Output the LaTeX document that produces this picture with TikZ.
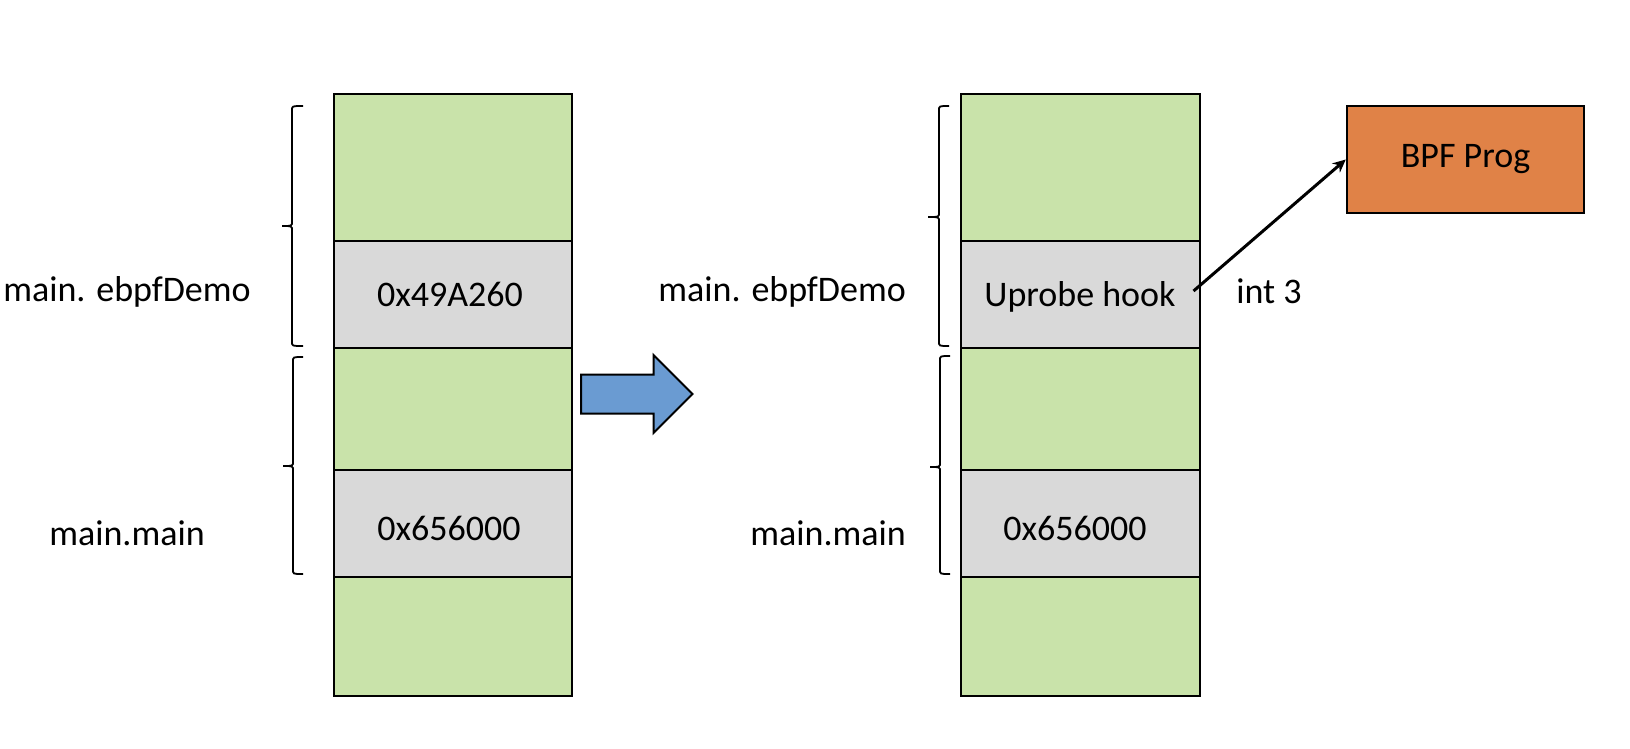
\documentclass[tikz,border=0pt]{standalone}
\usepackage{fontspec}
\setmainfont{Carlito}
\usetikzlibrary{arrows.meta}
\definecolor{cgreen}{HTML}{C9E3AA}
\definecolor{cgray}{HTML}{D9D9D9}
\definecolor{cblue}{HTML}{6A9BD2}
\definecolor{corange}{HTML}{E08247}
\begin{document}
\begin{tikzpicture}[x=1pt,y=-1pt,
  font=\fontsize{36}{42}\selectfont,
  cell/.style={draw,line width=2.4pt,inner sep=0pt,anchor=north west},
  gcell/.style={cell,fill=cgreen},
  ycell/.style={cell,fill=cgray},
  lbl/.style={inner sep=0pt,anchor=base},
  bracepath/.style={line width=1.8pt},
]
\useasboundingbox (0,0) rectangle (1630,748);
% left column
\node[gcell,minimum width=238pt,minimum height=147.5pt] (L1) at (333,92.5) {};
\node[ycell,minimum width=238pt,minimum height=106.5pt] (L2) at (333,240) {};
\node[gcell,minimum width=238pt,minimum height=122.5pt] (L3) at (333,346.5) {};
\node[ycell,minimum width=238pt,minimum height=106.5pt] (L4) at (333,469) {};
\node[gcell,minimum width=238pt,minimum height=119.5pt] (L5) at (333,575.5) {};
\node[lbl] (La) at (450,306) {0x49A260};
\node[lbl] (Lb) at (449,540) {0x656000};
% right column
\node[gcell,minimum width=239pt,minimum height=147.5pt] (R1) at (959.5,92.5) {};
\node[ycell,minimum width=239pt,minimum height=106.5pt] (R2) at (959.5,240) {};
\node[gcell,minimum width=239pt,minimum height=122.5pt] (R3) at (959.5,346.5) {};
\node[ycell,minimum width=239pt,minimum height=106.5pt] (R4) at (959.5,469) {};
\node[gcell,minimum width=239pt,minimum height=119.5pt] (R5) at (959.5,575.5) {};
\node[lbl] (Ra) at (1080,306) {Uprobe hook};
\node[lbl] (Rb) at (1075,540) {0x656000};
% side labels
\node[lbl] (n1) at (127,301) {main. ebpfDemo};
\node[lbl] (n2) at (127,545) {main.main};
\node[lbl,anchor=base east] (n3) at (906,301) {main. ebpfDemo};
\node[lbl,anchor=base east] (n4) at (906,545) {main.main};
\node[lbl] (int3) at (1269,303) {int 3};
% braces
\draw[bracepath] (303,106) .. controls (292,106) .. (292,110) -- (292,222) .. controls (292,226) .. (282,226) .. controls (292,226) .. (292,230) -- (292,342) .. controls (292,346) .. (303,346);
\draw[bracepath] (303,357) .. controls (293,357) .. (293,361) -- (293,462) .. controls (293,466) .. (283,466) .. controls (293,466) .. (293,470) -- (293,570) .. controls (293,574) .. (303,574);
\draw[bracepath] (949,106) .. controls (939,106) .. (939,110) -- (939,213) .. controls (939,217) .. (928,217) .. controls (939,217) .. (939,221) -- (939,342) .. controls (939,346) .. (949,346);
\draw[bracepath] (950,356) .. controls (940,356) .. (940,360) -- (940,463) .. controls (940,467) .. (930,467) .. controls (940,467) .. (940,471) -- (940,570) .. controls (940,574) .. (950,574);
% block arrow
\draw[fill=cblue,line width=2pt,line join=miter] (581,374.5) -- (653.5,374.5) -- (653.5,355) -- (692.5,394) -- (653.5,433) -- (653.5,413.5) -- (581,413.5) -- cycle;
% BPF prog
\node[draw,fill=corange,line width=2.4pt,minimum width=237pt,minimum height=107pt,inner sep=0pt] (bpf) at (1465.5,159.5) {BPF Prog};
\coordinate (hook) at (1193.5,291);
\draw[line width=3pt,-{Stealth[length=13pt,width=12pt]}] (hook) -- (bpf.west);
\end{tikzpicture}
\end{document}
